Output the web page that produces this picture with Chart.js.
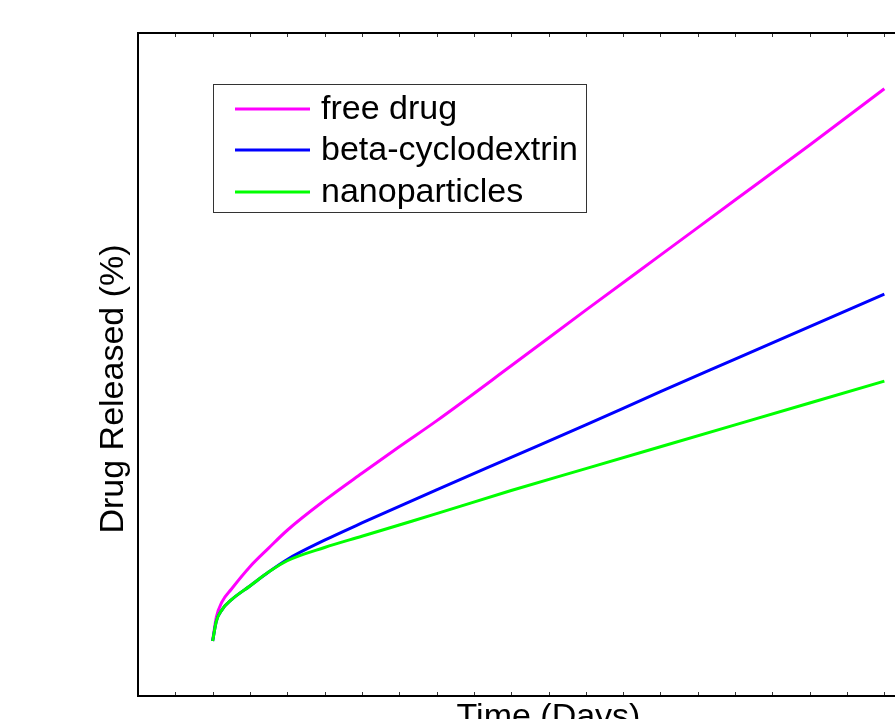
<!DOCTYPE html>
<html>
<head>
<meta charset="utf-8">
<script src="https://cdn.jsdelivr.net/npm/chart.js@4.4.1/dist/chart.umd.min.js"></script>
<style>
  html, body { margin: 0; padding: 0; background: #fff; overflow: hidden; }
  #wrap { width: 895px; height: 719px; overflow: hidden; }
</style>
</head>
<body>
<div id="wrap"><canvas id="myChart" width="960" height="719"></canvas></div>
<script>
// release profiles (y in % of the plotted range)
var days = [2, 2.1, 2.25, 2.5, 3, 3.5, 4, 5, 6, 7, 8, 10, 12, 14, 16, 18, 20];
var freeDrug = [8.3, 11.9, 14.2, 16.1, 19.5, 22.3, 25.0, 29.5, 33.6, 37.6, 41.5, 49.8, 58.2, 66.5, 74.8, 83.1, 91.6];
var betaCD = [8.3, 11.3, 13.0, 14.5, 16.6, 18.7, 20.6, 23.5, 26.1, 28.6, 31.1, 36.0, 40.9, 45.9, 50.8, 55.7, 60.6];
var nanoparticles = [8.3, 11.3, 13.0, 14.5, 16.6, 18.7, 20.4, 22.4, 24.1, 25.8, 27.5, 31.0, 34.3, 37.6, 40.9, 44.2, 47.5];

var seriesNames = ['free drug', 'beta-cyclodextrin', 'nanoparticles'];
var seriesColors = ['#ff00ff', '#0000ff', '#00ff00'];
var xTitle = 'Time (Days)';
var yTitle = 'Drug Released (%)';

function toPoints(vals) {
    var pts = [];
    for (var i = 0; i < days.length; i++) pts.push({ x: days[i], y: vals[i] });
    return pts;
}

var FONT = '"Liberation Sans", Arial, sans-serif';

// frame, inward ticks, legend box and axis titles drawn by hand
var matlabLook = {
    id: 'matlabLook',
    afterDatasetsDraw: function (chart) {
        var c = chart.ctx;
        var a = chart.chartArea;
        var xs = chart.scales.x;
        c.save();

        // ticks (inward) top and bottom
        c.strokeStyle = '#333';
        c.lineWidth = 1;
        for (var t = xs.min; t <= xs.max; t++) {
            var px = Math.round(xs.getPixelForValue(t)) + 0.5;
            c.beginPath();
            c.moveTo(px, a.bottom);
            c.lineTo(px, a.bottom - 4);
            c.moveTo(px, a.top);
            c.lineTo(px, a.top + 4);
            c.stroke();
        }

        // frame
        c.strokeStyle = '#000';
        c.lineWidth = 2;
        c.strokeRect(a.left, a.top, a.right - a.left, a.bottom - a.top);

        // legend
        var lx = 213.5, ly = 84.5, lw = 373, lh = 128;
        c.fillStyle = '#fff';
        c.fillRect(lx, ly, lw, lh);
        c.strokeStyle = '#333';
        c.lineWidth = 1;
        c.strokeRect(lx, ly, lw, lh);
        c.font = '34px ' + FONT;
        c.textBaseline = 'middle';
        c.textAlign = 'left';
        var rows = [109, 150, 192];
        seriesNames.forEach(function (name, i) {
            c.strokeStyle = seriesColors[i];
            c.lineWidth = 3;
            c.beginPath();
            c.moveTo(235, rows[i]);
            c.lineTo(310, rows[i]);
            c.stroke();
            c.fillStyle = '#000';
            c.fillText(name, 321, rows[i] + 1);
        });

        // axis titles
        c.fillStyle = '#000';
        c.font = '34px ' + FONT;
        c.textAlign = 'center';
        c.textBaseline = 'alphabetic';
        c.fillText(xTitle, (a.left + a.right) / 2, 727);
        c.translate(123, 389);
        c.rotate(-Math.PI / 2);
        c.fillText(yTitle, 0, 0);
        c.restore();
    }
};

var ctx = document.getElementById('myChart').getContext('2d');
var myChart = new Chart(ctx, {
    type: 'line',
    data: {
        datasets: [
            { label: seriesNames[0], data: toPoints(freeDrug), borderColor: seriesColors[0], order: 3 },
            { label: seriesNames[1], data: toPoints(betaCD), borderColor: seriesColors[1], order: 2 },
            { label: seriesNames[2], data: toPoints(nanoparticles), borderColor: seriesColors[2], order: 1 }
        ]
    },
    options: {
        responsive: false,
        animation: false,
        devicePixelRatio: 1,
        layout: { padding: { left: 138, top: 33, bottom: 23, right: 1 } },
        elements: {
            line: { borderWidth: 3, cubicInterpolationMode: 'monotone', fill: false },
            point: { radius: 0 }
        },
        scales: {
            x: { type: 'linear', min: 0, max: 22, display: false },
            y: { type: 'linear', min: 0, max: 100, display: false }
        },
        plugins: {
            legend: { display: false },
            tooltip: { enabled: false }
        }
    },
    plugins: [matlabLook]
});
</script>
</body>
</html>
